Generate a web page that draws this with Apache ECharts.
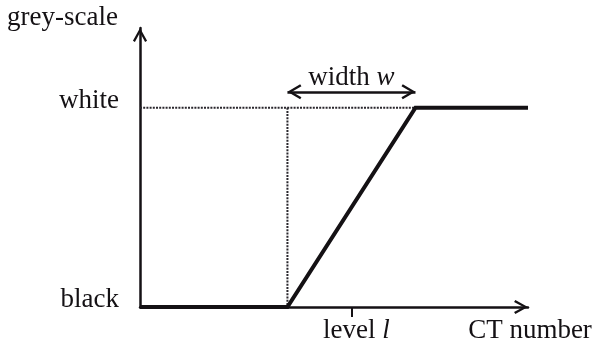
<!DOCTYPE html>
<html>
<head>
<meta charset="utf-8">
<script src="https://cdn.jsdelivr.net/npm/echarts@6/dist/echarts.min.js"></script>
<style>
  html, body { margin: 0; padding: 0; background: #fff; }
  #chart { width: 592px; height: 346px; }
</style>
</head>
<body>
<div id="chart"></div>
<script>
// Window/level mapping: CT numbers below (level - width/2) show black,
// above (level + width/2) show white, linear ramp in between.
const ctRange = [0, 100];
const greyRange = [0, 1.4];
const level = 54.5;
const width = 33;
const greyLevels = { black: 0, white: 1 };
const widthArrowY = 1.08;

const lo = level - width / 2;
const hi = level + width / 2;

const rampCurve = [
  [ctRange[0], greyLevels.black],
  [lo, greyLevels.black],
  [hi, greyLevels.white],
  [ctRange[1], greyLevels.white]
];
const whiteGuide = [[ctRange[0], greyLevels.white], [hi, greyLevels.white]];
const lowGuide = [[lo, greyLevels.white], [lo, greyLevels.black]];

const INK = '#141114';
const FONT = 'Liberation Serif';
// open arrow head, pointing up
const chevron = 'path://M0,9 L5,0 L10,9 L8.6,9.9 L5,3.2 L1.4,9.9 Z';

const chart = echarts.init(document.getElementById('chart'), null, { renderer: 'canvas' });
chart.setOption({
  backgroundColor: '#ffffff',
  animation: false,
  textStyle: { fontFamily: FONT, color: INK },
  grid: { left: 140, right: 64, top: 28, bottom: 39, outerBoundsMode: 'none', containLabel: false },
  xAxis: {
    type: 'value',
    min: ctRange[0],
    max: ctRange[1],
    name: 'CT number',
    nameLocation: 'end',
    nameGap: 2,
    nameTextStyle: { fontFamily: FONT, fontSize: 27, color: INK, align: 'center', verticalAlign: 'top', padding: [10, 0, 0, 0] },
    splitLine: { show: false },
    axisLine: {
      lineStyle: { color: INK, width: 2.5 },
      symbol: ['none', chevron],
      symbolSize: [14, 15],
      symbolOffset: [0, -7]
    },
    axisTick: { show: true, customValues: [level], length: 10, lineStyle: { color: INK, width: 2 } },
    axisLabel: {
      customValues: [level],
      margin: 10,
      padding: [0, 0, 0, 10],
      formatter: () => '{a|level }{b|l}',
      rich: {
        a: { fontFamily: FONT, fontSize: 27, color: INK },
        b: { fontFamily: FONT, fontSize: 27, color: INK, fontStyle: 'italic' }
      }
    }
  },
  yAxis: {
    type: 'value',
    min: greyRange[0],
    max: greyRange[1],
    name: 'grey-scale',
    nameLocation: 'end',
    nameGap: 10,
    nameTextStyle: { fontFamily: FONT, fontSize: 27, color: INK, align: 'right', verticalAlign: 'middle', padding: [0, 22, 0, 0] },
    splitLine: { show: false },
    axisLine: {
      lineStyle: { color: INK, width: 2.5 },
      symbol: ['none', chevron],
      symbolSize: [15, 14],
      symbolOffset: [0, -7]
    },
    axisTick: { show: false },
    axisLabel: {
      customValues: [greyLevels.black, greyLevels.white],
      margin: 21,
      fontFamily: FONT,
      fontSize: 27,
      color: INK,
      verticalAlign: 'bottom',
      lineHeight: 14,
      formatter: (v) => (v === greyLevels.white ? 'white' : 'black')
    }
  },
  series: [
    {
      type: 'line',
      data: whiteGuide,
      symbol: 'none',
      silent: true,
      lineStyle: { color: '#2a272d', width: 2, type: [2, 1.2] },
      z: 2
    },
    {
      type: 'line',
      data: lowGuide,
      symbol: 'none',
      silent: true,
      lineStyle: { color: '#2a272d', width: 2, type: [2, 1.2] },
      z: 2
    },
    {
      type: 'line',
      data: rampCurve,
      symbol: 'none',
      silent: true,
      lineStyle: { color: INK, width: 4, join: 'miter' },
      z: 3,
      markLine: {
        silent: true,
        animation: false,
        symbol: [chevron, chevron],
        symbolSize: [15, 14],
        symbolOffset: [[0, 7], [0, 7]],
        lineStyle: { color: INK, width: 2.5, type: 'solid' },
        label: {
          show: true,
          position: 'middle',
          distance: 0,
          formatter: '{a|width }{b|w}',
          rich: {
            a: { fontFamily: FONT, fontSize: 27, color: INK },
            b: { fontFamily: FONT, fontSize: 27, color: INK, fontStyle: 'italic' }
          }
        },
        data: [[{ coord: [lo, widthArrowY] }, { coord: [hi, widthArrowY] }]]
      }
    }
  ]
});
</script>
</body>
</html>
